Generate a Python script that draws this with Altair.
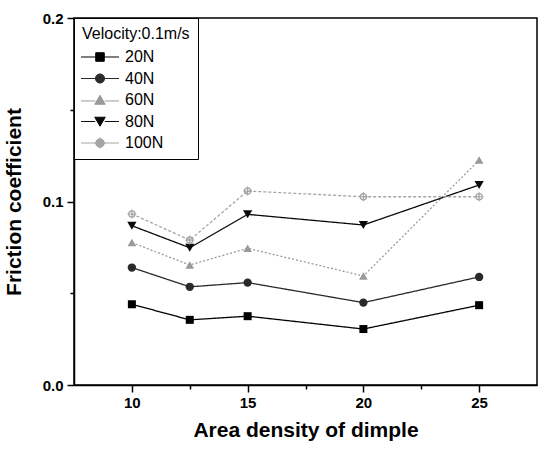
import altair as alt
import pandas as pd

density = [10, 12.5, 15, 20, 25]
loads = ["20N", "40N", "60N", "80N", "100N"]
f20 = [0.0440, 0.0355, 0.0375, 0.0305, 0.0435]
f40 = [0.0640, 0.0535, 0.0558, 0.0449, 0.0589]
f60 = [0.0776, 0.0654, 0.0745, 0.0594, 0.1226]
f80 = [0.0868, 0.0748, 0.0930, 0.0872, 0.1090]
f100 = [0.0932, 0.0790, 0.1057, 0.1026, 0.1026]

rows = []
for name, vals in zip(loads, [f20, f40, f60, f80, f100]):
    for d, v in zip(density, vals):
        rows.append({"density": d, "load": name, "friction": v})
df = pd.DataFrame(rows)

colors = ["#000000", "#2a2a2a", "#9a9a9a", "#0a0a0a", "#a5a5a5"]
dashes = [[1, 0], [1, 0], [2, 2], [1, 0], [3, 2]]
circ_cross = "M-1,0A1,1 0 1,0 1,0A1,1 0 1,0 -1,0ZM-1.4,0H1.4M0,-1.4V1.4"
shapes = ["square", "circle", "triangle-up", "triangle-down", circ_cross]
filled = [True, True, True, True, False]
sizes = [64, 70, 75, 85, 40]
leg_shapes = [
    "M-2,0H-0.45M0.45,0H2M-0.45,-0.45H0.45V0.45H-0.45Z",
    "M-2,0H-0.48M0.48,0H2M-0.48,0A0.48,0.48 0 1,0 0.48,0A0.48,0.48 0 1,0 -0.48,0Z",
    "M-2,0.1H-0.5M0.5,0.1H2M0,-0.5L0.55,0.45H-0.55Z",
    "M-2,0H-0.5M0.5,0H2M-0.55,-0.45H0.55L0,0.5Z",
    "M-2,0H-0.45M0.45,0H2M-0.45,0A0.45,0.45 0 1,0 0.45,0A0.45,0.45 0 1,0 -0.45,0ZM-0.6,0H0.6M0,-0.6V0.6",
]

xscale = alt.Scale(domain=[7.5, 27.5], nice=False, zero=False)
yscale = alt.Scale(domain=[0, 0.2], nice=False)

x = alt.X("density:Q", scale=xscale, title="Area density of dimple",
          axis=alt.Axis(values=[10, 12.5, 15, 17.5, 20, 22.5, 25],
                        labelExpr="datum.value % 5 === 0 ? datum.label : ''",
                        tickSize={"condition": {"test": "datum.value % 5 === 0", "value": 7}, "value": 4},
                        grid=False, domainColor="black", domainWidth=1.5,
                        tickColor="black", tickWidth=1.5,
                        labelFont="Liberation Sans", labelFontWeight="bold", labelFontSize=15,
                        labelColor="black", labelPadding=3,
                        titleFont="Liberation Sans", titleFontWeight="bold", titleFontSize=21,
                        titleColor="black", titlePadding=9))
y = alt.Y("friction:Q", scale=yscale, title="Friction coefficient",
          axis=alt.Axis(values=[0, 0.05, 0.1, 0.15, 0.2],
                        labelExpr="round(datum.value*100) % 10 === 0 ? format(datum.value, '.1f') : ''",
                        tickSize={"condition": {"test": "round(datum.value*100) % 10 === 0", "value": 7}, "value": 4},
                        grid=False, domainColor="black", domainWidth=1.5,
                        tickColor="black", tickWidth=1.5,
                        labelFont="Liberation Sans", labelFontWeight="bold", labelFontSize=15,
                        labelColor="black", labelPadding=4,
                        titleFont="Liberation Sans", titleFontWeight="bold", titleFontSize=21,
                        titleColor="black", titlePadding=18))

base = alt.Chart(df)

layers = []
for name, col, dash, shp, fl, sz in zip(loads, colors, dashes, shapes, filled, sizes):
    sub = base.transform_filter(alt.datum.load == name)
    layers.append(sub.mark_line(strokeWidth=1.3, color=col, strokeDash=dash).encode(x=x, y=y))
    layers.append(sub.mark_point(shape=shp, filled=fl, size=sz, strokeWidth=1.2,
                                 opacity=1, color=col).encode(x=x, y=y))

leg = alt.Legend(
    title="Velocity:0.1m/s", orient="top-left", offset=0,
    titleFont="Liberation Sans", titleFontWeight="normal",
    titleFontSize=16, titleColor="black", titlePadding=5,
    labelFont="Liberation Sans", labelFontSize=16, labelColor="black",
    symbolSize=361, symbolStrokeWidth=1, symbolOpacity=1,
    symbolOffset=8, labelOffset=15, rowPadding=3.5, padding=8,
    strokeColor="black", fillColor="white",
)

legend_layer = base.mark_point(opacity=0, strokeWidth=1).encode(
    x=x, y=y,
    fill=alt.Fill("load:N", scale=alt.Scale(domain=loads, range=colors), legend=leg),
    stroke=alt.Stroke("load:N", scale=alt.Scale(domain=loads, range=colors), legend=leg),
    shape=alt.Shape("load:N", scale=alt.Scale(domain=loads, range=leg_shapes), legend=leg),
)
layers.append(legend_layer)

chart = alt.layer(*layers).properties(
    width=463, height=367,
    background="white",
    autosize=alt.AutoSizeParams(type="none"),
    padding={"left": 74, "top": 18, "right": 7, "bottom": 64},
).configure_view(stroke="black", strokeWidth=1.5)

chart.save("out.html", embed_options={"renderer": "svg", "actions": False})
